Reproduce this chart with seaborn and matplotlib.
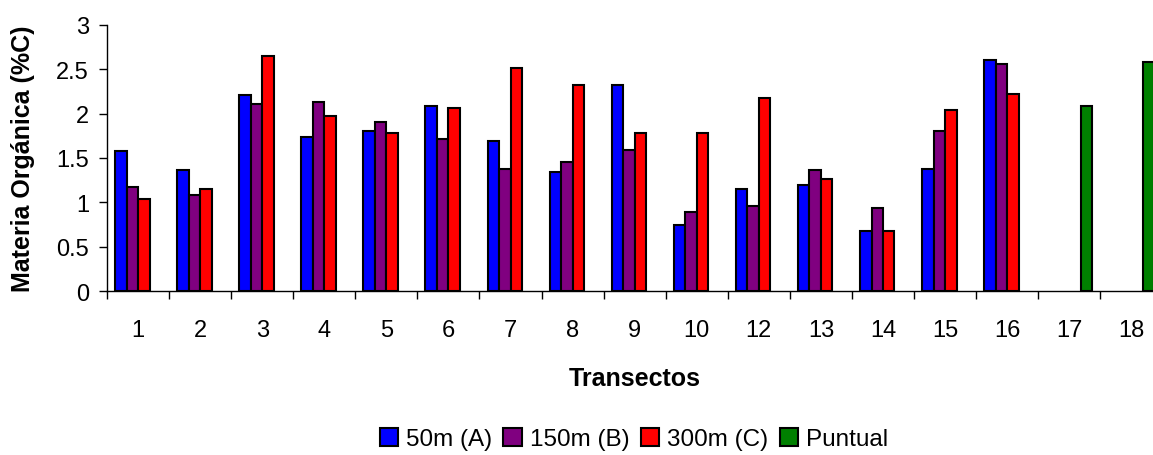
import matplotlib
matplotlib.use("Agg")
import matplotlib.pyplot as plt
import seaborn as sns
import pandas as pd
import numpy as np

categories = ["1", "2", "3", "4", "5", "6", "7", "8", "9", "10", "12", "13", "14", "15", "16", "17", "18"]
series_names = ["50m (A)", "150m (B)", "300m (C)", "Puntual"]
a_50m = [1.575, 1.36, 2.205, 1.74, 1.80, 2.085, 1.69, 1.34, 2.32, 0.75, 1.15, 1.20, 0.68, 1.38, 2.60, None, None]
b_150m = [1.17, 1.08, 2.11, 2.13, 1.90, 1.71, 1.38, 1.455, 1.59, 0.895, 0.96, 1.36, 0.94, 1.805, 2.555, None, None]
c_300m = [1.035, 1.15, 2.645, 1.97, 1.78, 2.06, 2.51, 2.32, 1.78, 1.78, 2.18, 1.265, 0.68, 2.04, 2.225, None, None]
puntual = [None] * 15 + [2.085, 2.58]
colors = ["#0000FF", "#800080", "#FF0000", "#008000"]

rows = []
for name, vals in zip(series_names, [a_50m, b_150m, c_300m, puntual]):
    for cat, v in zip(categories, vals):
        if v is not None:
            rows.append({"Transecto": cat, "Serie": name, "Valor": v})
df = pd.DataFrame(rows)

sns.set_theme(style="white")
plt.rcParams["font.family"] = ["Liberation Sans", "DejaVu Sans"]
plt.rcParams["text.color"] = "black"
plt.rcParams["axes.labelcolor"] = "black"
plt.rcParams["xtick.color"] = "black"
plt.rcParams["ytick.color"] = "black"

W, H = 1153, 456
fig = plt.figure(figsize=(W / 100, H / 100), dpi=100)
ax = fig.add_axes([107 / W, 163.7 / H, 17 * 62.08 / W, 266.6 / H])

sns.barplot(data=df, x="Transecto", y="Valor", hue="Serie", order=categories,
            hue_order=series_names, palette=colors, width=0.74, dodge=True,
            errorbar=None, edgecolor="black", linewidth=1.5, saturation=1,
            ax=ax)

ax.set_ylim(0, 3)
ax.set_xlim(-0.5, len(categories) - 0.5)
ax.set_yticks(np.arange(0, 3.01, 0.5))
ax.set_yticklabels(["0", "0.5", "1", "1.5", "2", "2.5", "3"])
ax.set_xticks(range(len(categories)))
ax.set_xticklabels(categories)
ax.set_xticks(np.arange(-0.5, len(categories), 1), minor=True)

ax.tick_params(axis="x", which="major", length=0, pad=20, labelsize=17, labelcolor="black")
ax.tick_params(axis="x", which="minor", length=6, width=1, color="black", direction="out", bottom=True)
ax.tick_params(axis="y", which="major", length=6, width=1, pad=7, labelsize=17, direction="out",
               left=True, color="black", labelcolor="black")

for s in ["top", "right"]:
    ax.spines[s].set_visible(False)
for s in ["left", "bottom"]:
    ax.spines[s].set_color("black")
    ax.spines[s].set_linewidth(1.0)

ax.set_xlabel("Transectos", fontsize=18, fontweight="bold", labelpad=18, color="black")
ax.set_ylabel("Materia Orgánica (%C)", fontsize=18, fontweight="bold", labelpad=15, color="black")

handles, labels = ax.get_legend_handles_labels()
ax.get_legend().remove()
leg = fig.legend(handles, labels, loc="center", bbox_to_anchor=(634 / W, 1 - 440 / H), ncol=4,
                 frameon=False, fontsize=17.5, handlelength=0.75, handleheight=0.75,
                 handletextpad=0.35, columnspacing=0.45, borderpad=0)
for t in leg.get_texts():
    t.set_color("black")

fig.savefig("out.png", dpi=100)
